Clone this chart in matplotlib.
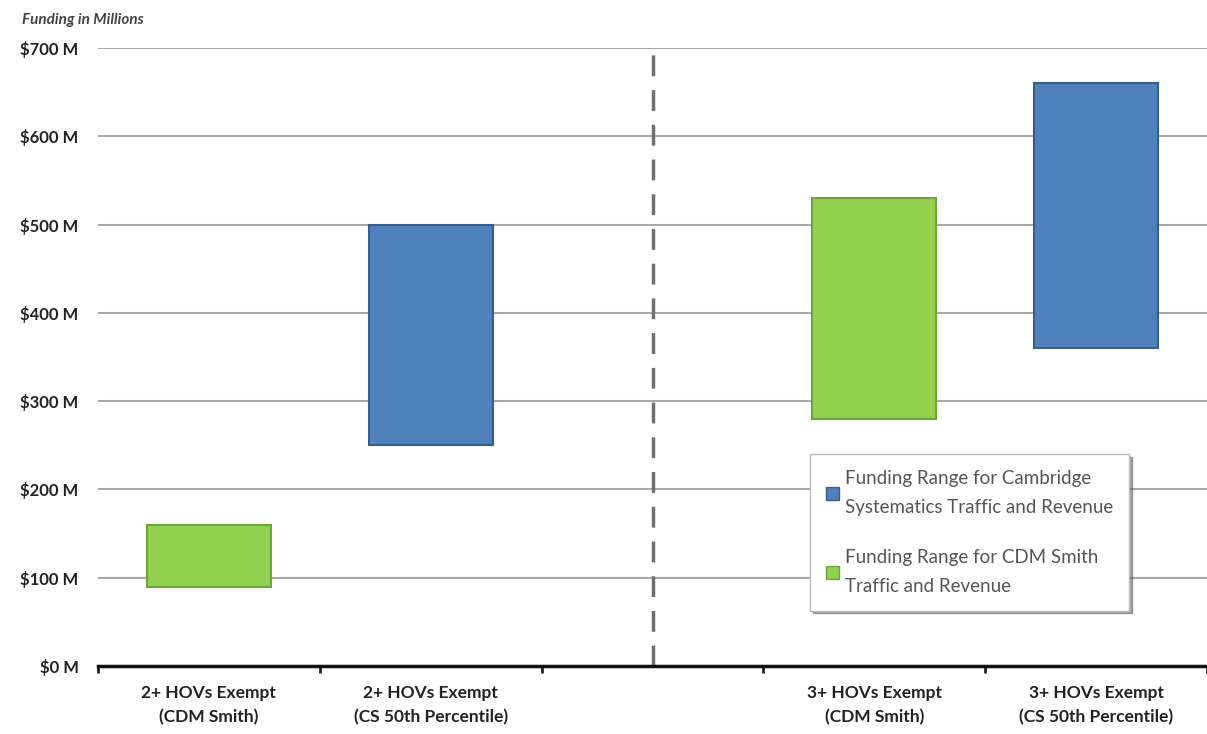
import matplotlib.pyplot as plt
from matplotlib.patches import Patch

# データ
categories = ["2+ HOVs Exempt\n(CDM Smith)", "2+ HOVs Exempt\n(CS 50th Percentile)", "",
              "3+ HOVs Exempt\n(CDM Smith)", "3+ HOVs Exempt\n(CS 50th Percentile)"]
low = [90, 250, None, 280, 360]
high = [160, 500, None, 530, 660]
source = ["CDM", "CS", None, "CDM", "CS"]
y_ticks = [0, 100, 200, 300, 400, 500, 600, 700]
y_labels = ["$0 M", "$100 M", "$200 M", "$300 M", "$400 M", "$500 M", "$600 M", "$700 M"]
legend_labels = ["Funding Range for Cambridge\nSystematics Traffic and Revenue",
                 "Funding Range for CDM Smith\nTraffic and Revenue"]

face = {"CS": "#4F81BD", "CDM": "#92D050"}
edge = {"CS": "#385D8A", "CDM": "#71A33B"}

plt.rcParams["font.family"] = ["Lato", "DejaVu Sans"]

fig = plt.figure(figsize=(12.07, 7.34), dpi=100)
ax = fig.add_axes([98 / 1207, 68 / 734, 1 - 98 / 1207, (666 - 48) / 734])

for i in range(len(categories)):
    if low[i] is None:
        continue
    ax.bar(i, high[i] - low[i], bottom=low[i], width=0.56,
           color=face[source[i]], edgecolor=edge[source[i]], linewidth=1.5, zorder=3)

# 区切りの破線
ax.axvline(2, color="#707070", linestyle=(0, (6, 4)), linewidth=2.5, zorder=2)

ax.set_xlim(-0.5, len(categories) - 0.5)
ax.set_ylim(0, 700)
ax.set_yticks(y_ticks)
ax.set_yticklabels(y_labels, fontsize=12, fontweight="bold", color="#222222")
ax.yaxis.grid(True, color="#A8A8A8", linewidth=1.5, zorder=0)
ax.tick_params(axis="y", length=0, pad=14)

ax.set_xticks(range(len(categories)))
ax.set_xticklabels(categories, fontsize=12.5, fontweight="bold", color="#222222",
                   linespacing=1.55)
ax.tick_params(axis="x", length=0, pad=14)
ax.set_xticks([i - 0.5 for i in range(len(categories) + 1)], minor=True)
ax.tick_params(axis="x", which="minor", length=5, width=2, direction="out", color="#222222")

for s in ["top", "right", "left"]:
    ax.spines[s].set_visible(False)
ax.spines["bottom"].set_linewidth(2.5)
ax.spines["bottom"].set_color("#111111")
ax.spines["bottom"].set_zorder(4)

fig.text(22 / 1207, 1 - 20 / 734, "Funding in Millions", fontsize=11, fontstyle="italic",
         fontweight="bold", color="#444444", va="center")

handles = [Patch(facecolor=face["CS"], edgecolor=edge["CS"]),
           Patch(facecolor=face["CDM"], edgecolor=edge["CDM"])]
leg = ax.legend(handles, legend_labels, loc="upper left", bbox_to_anchor=(0.642, 0.343),
                fontsize=13.5, labelcolor="#555555", frameon=True, fancybox=False,
                shadow=True, edgecolor="#BBBBBB", handlelength=0.7, handleheight=0.7,
                handletextpad=0.3, labelspacing=1.75, borderpad=0.85, borderaxespad=0)
for t in leg.get_texts():
    t.set_linespacing(1.85)
leg.set_zorder(5)

fig.savefig("out.png", dpi=100)
